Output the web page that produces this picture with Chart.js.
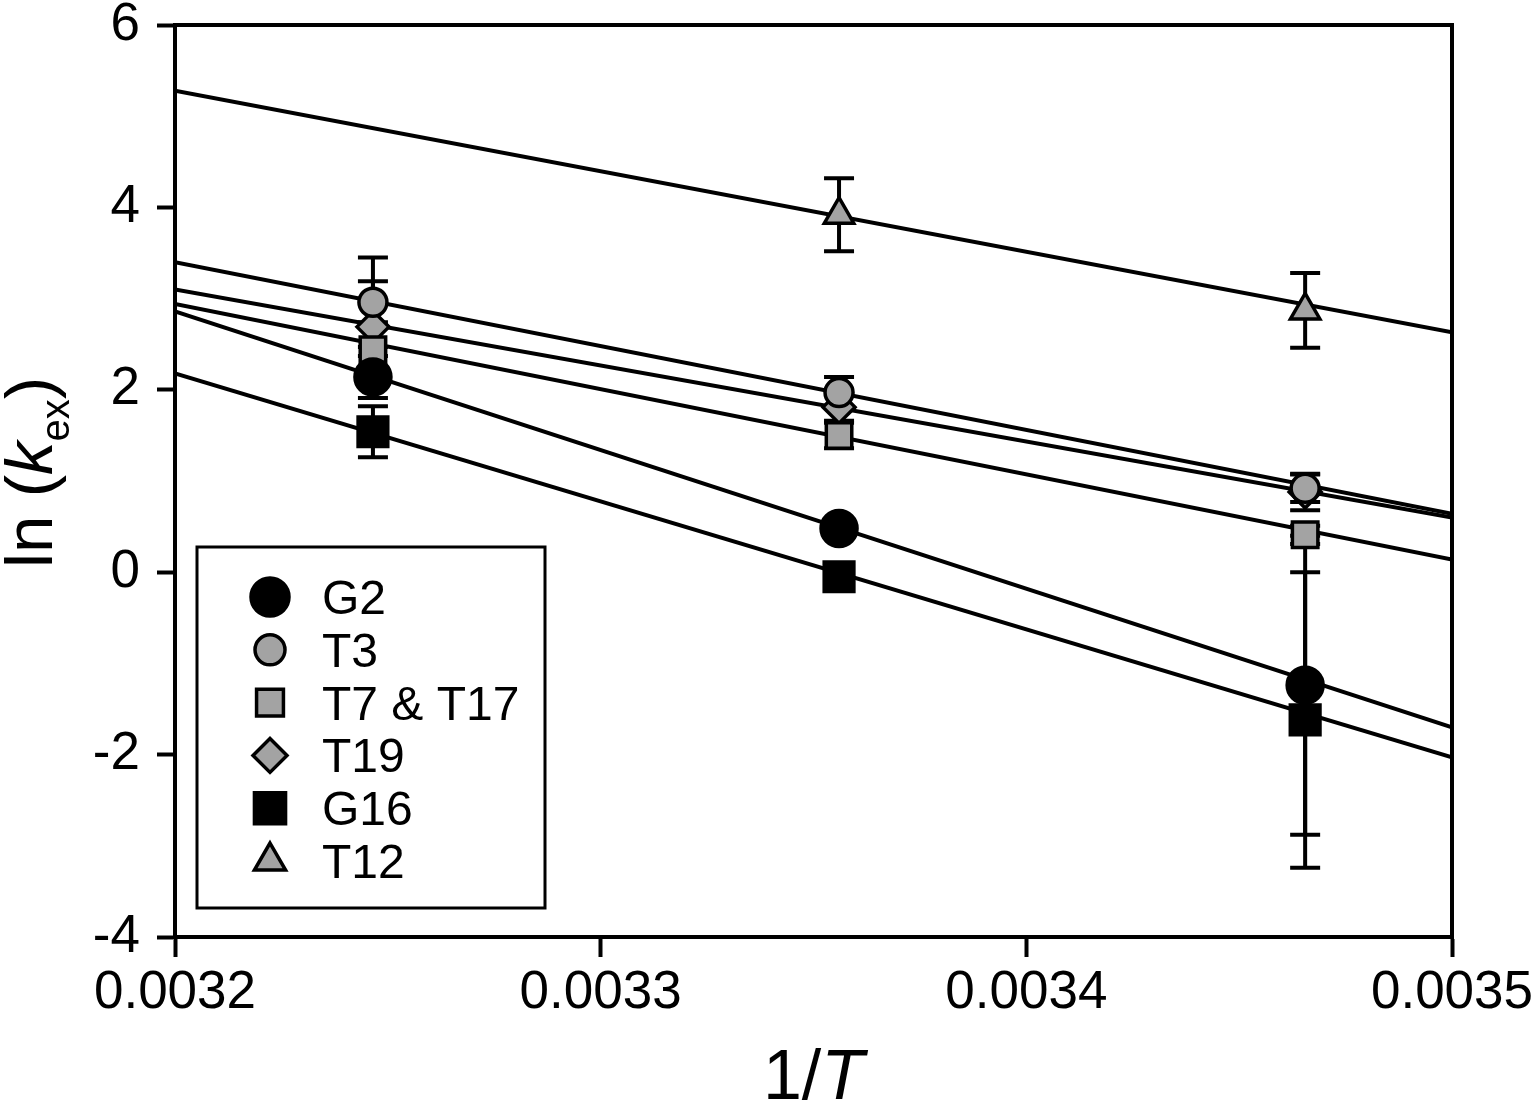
<!DOCTYPE html>
<html>
<head>
<meta charset="utf-8">
<script src="https://cdn.jsdelivr.net/npm/chart.js@4/dist/chart.umd.min.js"></script>
<style>
  body { margin: 0; background: #fff; }
  canvas { display: block; }
</style>
</head>
<body>
<canvas id="arrhenius" width="1535" height="1103"></canvas>
<script>
// --- DATOS ---
const invT = [0.0032465, 0.003356, 0.0034655];
const yTicks = [-4, -2, 0, 2, 4, 6];
const xTicks = [0.0032, 0.0033, 0.0034, 0.0035];

const g2Vals = [2.14, 0.48, -1.24];
const g2Err = [0.23, 0.10, 1.64];
const t3Vals = [2.96, 1.97, 0.92];
const t3Err = [0.49, 0.17, 0.15];
const t7Vals = [2.44, 1.50, 0.41];
const t7Err = [0.30, 0.14, 0.10];
const t19Vals = [2.69, 1.81, 0.88];
const t19Err = [0.50, 0.15, 0.20];
const g16Vals = [1.54, -0.05, -1.62];
const g16Err = [0.28, 0.10, 1.62];
const t12Vals = [null, 3.92, 2.87];
const t12Err = [null, 0.40, 0.41];

// rectas de ajuste, valores en x = 0.0032 y x = 0.0035
const fitX = [0.0032, 0.0035];
const g2Fit = [2.86, -1.70];
const t3Fit = [3.40, 0.64];
const t7Fit = [2.94, 0.14];
const t19Fit = [3.10, 0.60];
const g16Fit = [2.18, -2.03];
const t12Fit = [5.28, 2.63];

const GRAY = '#a3a3a3';
const FONT = '"Liberation Sans", Arial, Helvetica, sans-serif';
const LW = 4;

const series = [
    { label: 'G2', vals: g2Vals, err: g2Err, fit: g2Fit, style: 'circle', fill: '#000', r: 18 },
    { label: 'T3', vals: t3Vals, err: t3Err, fit: t3Fit, style: 'circle', fill: GRAY, r: 14 },
    { label: 'T7 & T17', vals: t7Vals, err: t7Err, fit: t7Fit, style: 'rect', fill: GRAY, r: 18 },
    { label: 'T19', vals: t19Vals, err: t19Err, fit: t19Fit, style: 'rectRot', fill: GRAY, r: 16 },
    { label: 'G16', vals: g16Vals, err: g16Err, fit: g16Fit, style: 'rect', fill: '#000', r: 21 },
    { label: 'T12', vals: t12Vals, err: t12Err, fit: t12Fit, style: 'triangle', fill: GRAY, r: 17 }
];

const toPoints = (xs, ys) => xs.map((x, i) => ({ x, y: ys[i] })).filter(p => p.y !== null);

const datasets = [];
series.forEach(s => {
    datasets.push({
        type: 'line',
        label: s.label + ' fit',
        data: toPoints(fitX, s.fit),
        borderColor: '#000',
        borderWidth: LW,
        pointRadius: 0,
        fill: false,
        order: 3
    });
});
series.forEach(s => {
    datasets.push({
        type: 'scatter',
        label: s.label,
        data: toPoints(invT, s.vals),
        errors: s.err.filter(e => e !== null),
        pointStyle: s.style,
        pointRadius: s.r,
        pointBackgroundColor: s.fill,
        pointBorderColor: '#000',
        pointBorderWidth: 3.5,
        order: 1
    });
});

// --- BARRAS DE ERROR ---
const errorBars = {
    id: 'errorBars',
    beforeDatasetsDraw(chart) {
        const { ctx, scales: { x, y } } = chart;
        ctx.save();
        ctx.strokeStyle = '#000';
        ctx.lineWidth = LW;
        chart.data.datasets.forEach(ds => {
            if (!ds.errors) return;
            ds.data.forEach((p, i) => {
                const e = ds.errors[i];
                if (!e) return;
                const px = x.getPixelForValue(p.x);
                const top = y.getPixelForValue(p.y + e);
                const bot = y.getPixelForValue(p.y - e);
                ctx.beginPath();
                ctx.moveTo(px, top); ctx.lineTo(px, bot);
                ctx.moveTo(px - 15, top); ctx.lineTo(px + 15, top);
                ctx.moveTo(px - 15, bot); ctx.lineTo(px + 15, bot);
                ctx.stroke();
            });
        });
        ctx.restore();
    }
};

function drawMarker(ctx, style, cx, cy, r, fill) {
    ctx.beginPath();
    if (style === 'circle') {
        ctx.arc(cx, cy, r, 0, Math.PI * 2);
    } else if (style === 'rect') {
        const h = r * Math.SQRT1_2;
        ctx.rect(cx - h, cy - h, 2 * h, 2 * h);
    } else if (style === 'rectRot') {
        ctx.moveTo(cx, cy - r); ctx.lineTo(cx + r, cy);
        ctx.lineTo(cx, cy + r); ctx.lineTo(cx - r, cy);
        ctx.closePath();
    } else if (style === 'triangle') {
        for (let k = 0; k < 3; k++) {
            const a = k * 2 * Math.PI / 3;
            const fn = k ? 'lineTo' : 'moveTo';
            ctx[fn](cx + Math.sin(a) * r, cy - Math.cos(a) * r);
        }
        ctx.closePath();
    }
    ctx.fillStyle = fill;
    ctx.fill();
    ctx.lineWidth = 3.5;
    ctx.strokeStyle = '#000';
    ctx.stroke();
}

// --- MARCO, LEYENDA Y TITULOS ---
const decorations = {
    id: 'decorations',
    afterDraw(chart) {
        const { ctx, chartArea: a } = chart;
        ctx.save();
        ctx.strokeStyle = '#000';
        ctx.lineWidth = LW;
        ctx.strokeRect(a.left, a.top, a.right - a.left, a.bottom - a.top);

        // leyenda
        ctx.fillStyle = '#fff';
        ctx.fillRect(197, 547, 348, 361);
        ctx.lineWidth = 3;
        ctx.strokeRect(197, 547, 348, 361);
        ctx.font = '48px ' + FONT;
        ctx.textBaseline = 'alphabetic';
        ctx.textAlign = 'left';
        series.forEach((s, i) => {
            const base = 614 + i * 52.8;
            drawMarker(ctx, s.style, 270, base - 17, s.r + 1, s.fill);
            ctx.fillStyle = '#000';
            ctx.fillText(s.label, 322, base);
        });

        // titulo eje x: 1/T
        ctx.fillStyle = '#000';
        ctx.font = '70px ' + FONT;
        const w1 = ctx.measureText('1/').width;
        ctx.font = 'italic 70px ' + FONT;
        const w2 = ctx.measureText('T').width;
        const sx = (a.left + a.right) / 2 - (w1 + w2) / 2;
        ctx.font = '70px ' + FONT;
        ctx.fillText('1/', sx, 1099);
        ctx.font = 'italic 70px ' + FONT;
        ctx.fillText('T', sx + w1, 1099);

        // titulo eje y: ln (k_ex)
        ctx.translate(52, 568);
        ctx.rotate(-Math.PI / 2);
        let cx = 0;
        const parts = [
            { t: 'ln (', f: '67px ' + FONT, dy: 0 },
            { t: 'k', f: 'italic 67px ' + FONT, dy: 0 },
            { t: 'ex', f: '40px ' + FONT, dy: 17 },
            { t: ')', f: '67px ' + FONT, dy: 0 }
        ];
        parts.forEach(p => {
            ctx.font = p.f;
            ctx.fillText(p.t, cx, p.dy);
            cx += ctx.measureText(p.t).width;
        });
        ctx.restore();
    }
};

new Chart(document.getElementById('arrhenius'), {
    type: 'scatter',
    data: { datasets },
    options: {
        responsive: false,
        animation: false,
        layout: { padding: { top: 25, right: 83, left: 0, bottom: 0 } },
        plugins: { legend: { display: false }, tooltip: { enabled: false } },
        scales: {
            x: {
                type: 'linear',
                min: xTicks[0],
                max: xTicks[xTicks.length - 1],
                afterBuildTicks: s => { s.ticks = xTicks.map(v => ({ value: v })); },
                afterFit: s => {
                    s.height = 1103 - 937;
                    s.paddingLeft = 0; s.paddingRight = 0;
                },
                ticks: {
                    color: '#000',
                    font: { family: FONT, size: 53 },
                    padding: 5,
                    maxRotation: 0,
                    callback: v => Number(v).toFixed(4)
                },
                grid: { drawOnChartArea: false, tickLength: 20, tickWidth: LW, tickColor: '#000' },
                border: { display: true, color: '#000', width: LW }
            },
            y: {
                type: 'linear',
                min: yTicks[0],
                max: yTicks[yTicks.length - 1],
                afterBuildTicks: s => { s.ticks = yTicks.map(v => ({ value: v })); },
                afterFit: s => {
                    s.width = 175;
                    s.paddingTop = 0; s.paddingBottom = 0;
                },
                ticks: {
                    color: '#000',
                    font: { family: FONT, size: 53 },
                    padding: 17,
                    callback: v => String(v)
                },
                grid: { drawOnChartArea: false, tickLength: 18, tickWidth: LW, tickColor: '#000' },
                border: { display: true, color: '#000', width: LW }
            }
        }
    },
    plugins: [errorBars, decorations]
});
</script>
</body>
</html>
